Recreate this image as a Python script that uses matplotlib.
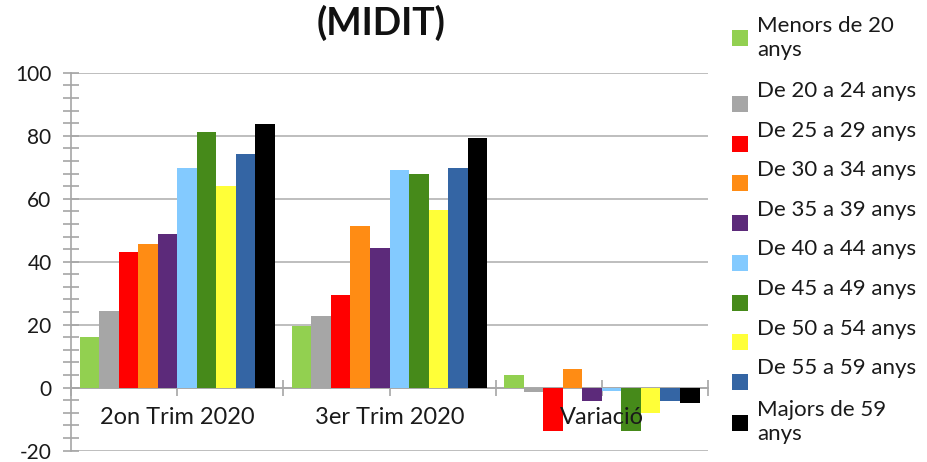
import matplotlib
matplotlib.use("Agg")
import matplotlib.pyplot as plt
from matplotlib.patches import Rectangle
from matplotlib.ticker import MultipleLocator
import numpy as np

plt.rcParams['font.family'] = ['Lato', 'DejaVu Sans']
plt.rcParams['axes.unicode_minus'] = False

categories = ['2on Trim 2020', '3er Trim 2020', 'Variació']
series = ['Menors de 20\nanys', 'De 20 a 24 anys', 'De 25 a 29 anys', 'De 30 a 34 anys',
          'De 35 a 39 anys', 'De 40 a 44 anys', 'De 45 a 49 anys', 'De 50 a 54 anys',
          'De 55 a 59 anys', 'Majors de 59\nanys']
colors = ['#92d050', '#a6a6a6', '#ff0000', '#ff8c14', '#5c2a7a',
          '#83caff', '#468a1a', '#ffff38', '#3465a4', '#000000']

trim2 = [16.0, 24.2, 43.2, 45.7, 48.9, 69.7, 81.2, 64.0, 74.2, 83.7]
trim3 = [19.7, 22.9, 29.3, 51.3, 44.5, 69.0, 67.9, 56.5, 69.7, 79.4]
variacio = [3.9, -1.5, -13.7, 5.8, -4.2, -0.9, -13.7, -8.0, -4.3, -4.8]

values = np.array([trim2, trim3, variacio])  # rows = categories

fig = plt.figure(figsize=(9.27, 4.62), dpi=100)
ax = fig.add_axes([0.0766, 0.0245, 0.6872, 0.8181])

x = np.arange(len(categories))
w = 0.092
for i in range(len(series)):
  ax.bar(x + (i - 4.5) * w, values[:, i], w, color=colors[i], linewidth=0, zorder=3)

ax.set_xlim(-0.5, 2.5)
ax.set_ylim(-20, 100)
ax.yaxis.set_major_locator(MultipleLocator(20))
ax.yaxis.set_minor_locator(MultipleLocator(4))
ax.set_xticks(x)
ax.set_xticklabels([])
ax.set_xticks([-0.5, 0.5, 1.5, 2.5], minor=True)

# category labels drawn above the bars (as in the reference)
for xi, lab in zip(x, categories):
  ax.text(xi, -9.6, lab, ha='center', va='center', fontsize=17, color='#1a1a1a', zorder=6)

gray = '#a6a6a6'
ax.grid(axis='y', which='major', color='#b3b3b3', linewidth=1.2, zorder=0)
ax.set_axisbelow(True)
for s in ['top', 'right']:
  ax.spines[s].set_visible(False)
ax.spines['bottom'].set_position(('data', 0))
ax.spines['bottom'].set_color(gray)
ax.spines['left'].set_color(gray)
ax.spines['bottom'].set_linewidth(1.2)
ax.spines['left'].set_linewidth(1.2)

ax.tick_params(axis='both', which='both', direction='inout', length=12, color=gray, width=1.2)
ax.tick_params(axis='y', which='major', labelsize=15, pad=8, labelcolor='#1a1a1a')
for t in ax.get_yticklabels():
  t.set_verticalalignment('center_baseline')

fig.text(381 / 927, 1 - 23 / 462, '(MIDIT)', ha='center', va='center',
         fontsize=27, fontweight='bold', color='#111111')

# legend drawn by hand
W, H = 927.0, 462.0
sq = 16
for i, lab in enumerate(series):
  if i == 0:
    ty, sy = 38, 38
  elif i == len(series) - 1:
    ty, sy = 422, 423
  else:
    ty = 91 + 39.6 * (i - 1)
    sy = 104 + 39.7 * (i - 1)
  fig.patches.append(Rectangle((732 / W, 1 - (sy + sq / 2) / H), sq / W, sq / H,
                               transform=fig.transFigure, facecolor=colors[i],
                               edgecolor='none'))
  fig.text(757 / W, 1 - ty / H, lab, ha='left', va='center', fontsize=16,
           color='#1a1a1a', linespacing=1.25)

fig.savefig('out.png', dpi=100)
